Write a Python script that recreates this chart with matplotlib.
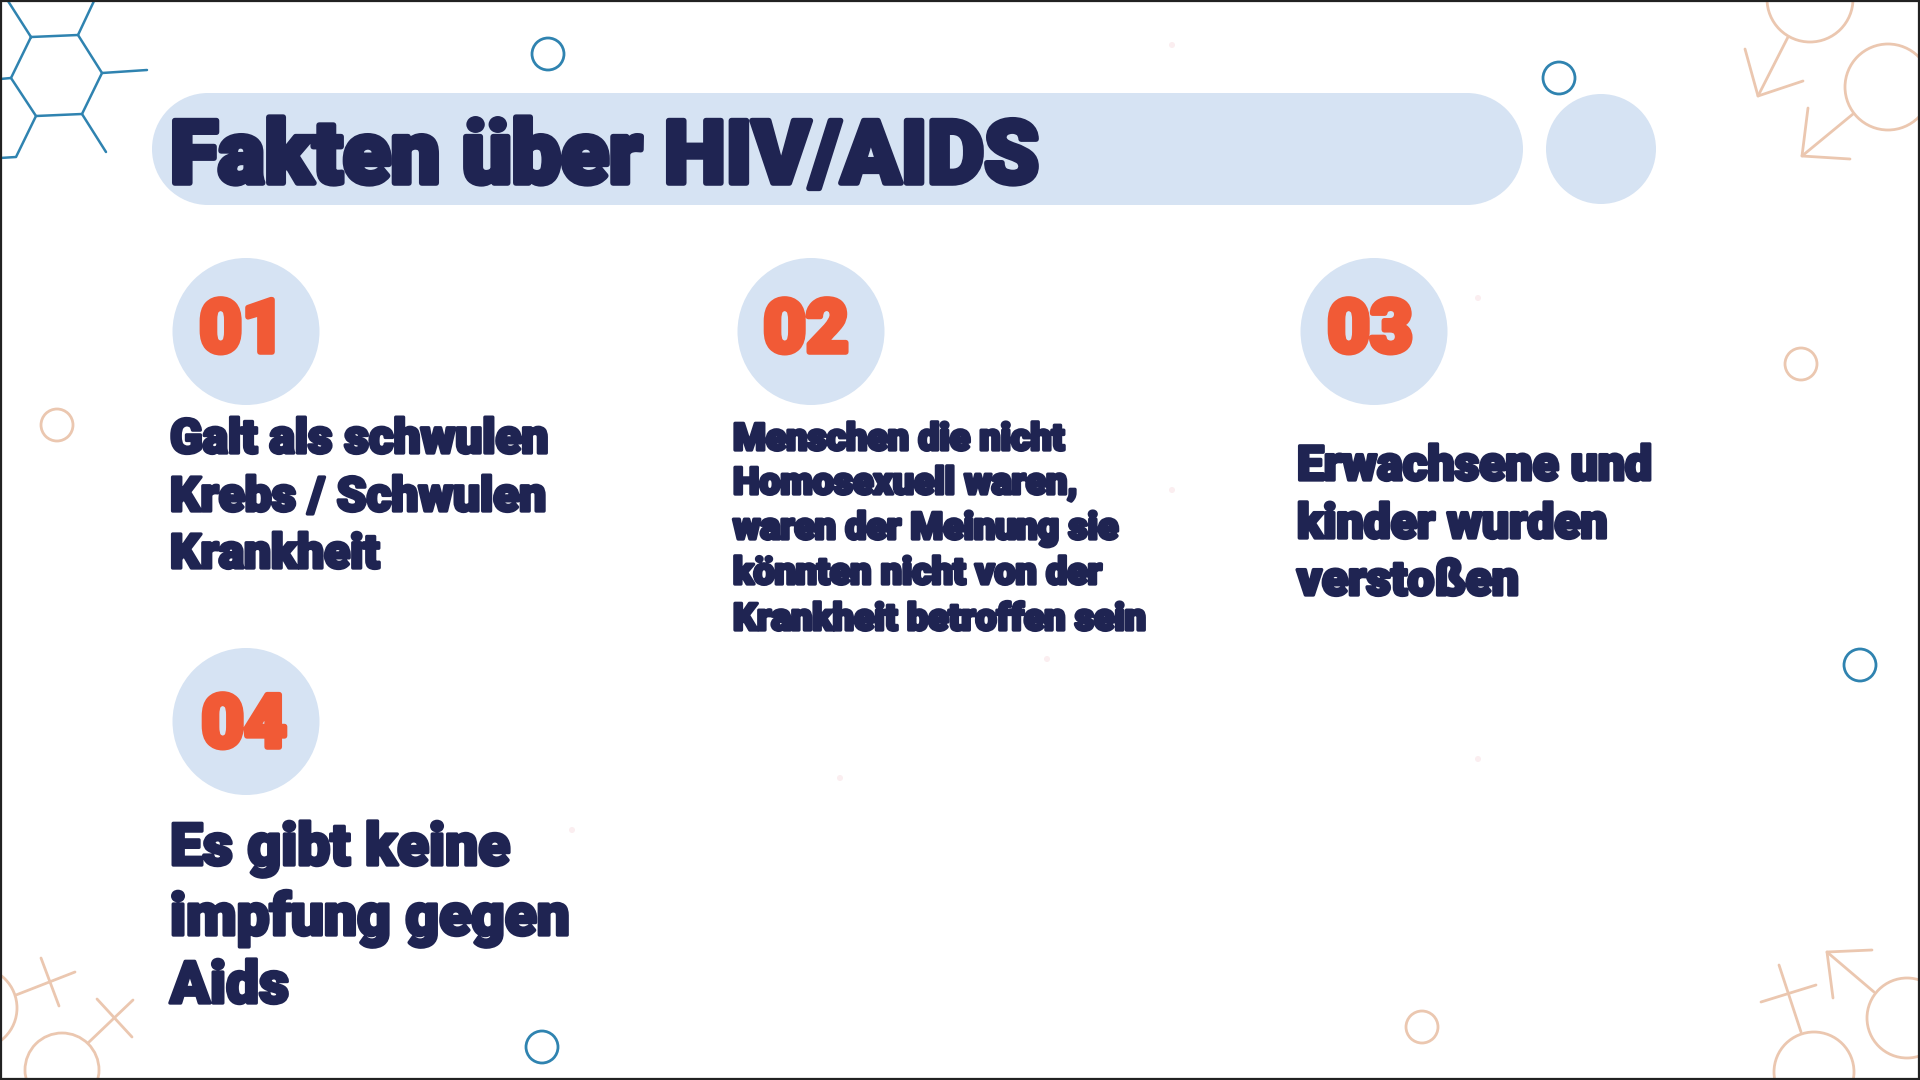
import matplotlib
matplotlib.use("Agg")
import matplotlib.pyplot as plt
import matplotlib.patheffects as pe
from matplotlib.patches import Circle, Rectangle

title = "Fakten über HIV/AIDS"
numbers = ["01", "02", "03", "04"]
col1 = ["Galt als schwulen", "Krebs / Schwulen", "Krankheit"]
col2 = ["Menschen die nicht", "Homosexuell waren,", "waren der Meinung sie",
        "könnten nicht von der", "Krankheit betroffen sein"]
col3 = ["Erwachsene und", "kinder wurden", "verstoßen"]
col4 = ["Es gibt keine", "impfung gegen", "Aids"]

NAVY = "#1f2452"
ORANGE = "#f15a36"
PALE = "#d6e3f3"
BLUE = "#2f83b0"
PEACH = "#ebc7b0"

plt.rcParams["font.family"] = ["Roboto", "DejaVu Sans"]

fig = plt.figure(figsize=(19.2, 10.8), dpi=100)
ax = fig.add_axes([0, 0, 1, 1])
ax.set_xlim(0, 1920)
ax.set_ylim(1080, 0)
ax.axis("off")


def heavy(x, y, s, size, color=NAVY, stroke=2.4, ha="left"):
    ax.text(x, y, s, fontsize=size, color=color, fontweight="black", ha=ha, va="baseline",
            path_effects=[pe.withStroke(linewidth=stroke, foreground=color)])


# faint specks in the paper
for sx, sy in [(1172, 45), (1478, 298), (1172, 490), (1047, 659), (840, 778), (1478, 759), (572, 830)]:
    ax.add_patch(Circle((sx, sy), 3, fc="#fbeef0", ec="none"))

# title pill
ax.add_patch(Rectangle((208, 93), 1259, 112, fc=PALE, ec="none"))
ax.add_patch(Circle((208, 149), 56, fc=PALE, ec="none"))
ax.add_patch(Circle((1467, 149), 56, fc=PALE, ec="none"))
ax.add_patch(Circle((1601, 149), 55, fc=PALE, ec="none"))
heavy(170, 183, title, 63.2, stroke=4)

# number badges
for (cx, cy), num, nx, ny in zip([(246, 331.5), (811, 331.5), (1374, 331.5), (246, 721.5)], numbers,
                                 [242, 806, 1370, 244], [352, 352, 352, 747]):
    ax.add_patch(Circle((cx, cy), 73.5, fc=PALE, ec="none"))
    heavy(nx, ny, num, 53, color=ORANGE, stroke=4, ha="center")

# body text
for lines, x, ys, size in [
    (col1, 170, [453, 511, 568], 34.4),
    (col2, 733, [450, 494, 539, 584, 630], 27),
    (col3, 1297, [480, 538, 595], 34.6),
    (col4, 170, [865, 935, 1003], 42.2),
]:
    for s, y in zip(lines, ys):
        heavy(x, y, s, size)

# hexagon decoration
hex_lines = [
    [(31, 37), (78, 35), (102, 73), (82, 114), (36, 116), (11, 78), (31, 37)],
    [(31, 37), (8, 1)], [(78, 35), (94, 1)], [(102, 73), (147, 70)],
    [(82, 114), (106, 152)], [(36, 116), (16, 157), (0, 158)], [(11, 78), (0, 79)],
]
for pts in hex_lines:
    ax.plot(*zip(*pts), color=BLUE, lw=1.8, solid_capstyle="round")

# gender symbols in the corners
sym_lines = [
    [(1788, 37), (1758, 96)], [(1745, 49), (1758, 96), (1803, 81)],
    [(1853, 114), (1802, 156)], [(1808, 108), (1802, 156), (1850, 159)],
    [(16, 995), (75, 972)], [(41, 958), (59, 1006)],
    [(88, 1043), (133, 1000)], [(97, 999), (132, 1037)],
    [(1801, 1032), (1779, 965)], [(1761, 1002), (1816, 985)],
    [(1874, 992), (1827, 952)], [(1872, 950), (1827, 952), (1833, 998)],
]
for pts in sym_lines:
    ax.plot(*zip(*pts), color=PEACH, lw=2.0, solid_capstyle="round")
for cx, cy, r in [(1810, -1, 43), (1888, 87, 43), (-24, 1008, 41), (62, 1070, 37),
                  (1814, 1072, 40), (1907, 1018, 40)]:
    ax.add_patch(Circle((cx, cy), r, fc="none", ec=PEACH, lw=2.0))

# little rings
for cx, cy in [(548, 54), (1559, 78), (1860, 665), (542, 1047)]:
    ax.add_patch(Circle((cx, cy), 16, fc="none", ec=BLUE, lw=2.0))
for cx, cy in [(57, 425), (1801, 364), (1422, 1027)]:
    ax.add_patch(Circle((cx, cy), 16, fc="none", ec=PEACH, lw=2.0))

# frame
ax.add_patch(Rectangle((0.5, 0.5), 1918.5, 1078, fc="none", ec="#222222", lw=1.6, zorder=10))

fig.savefig("out.png", dpi=100)
